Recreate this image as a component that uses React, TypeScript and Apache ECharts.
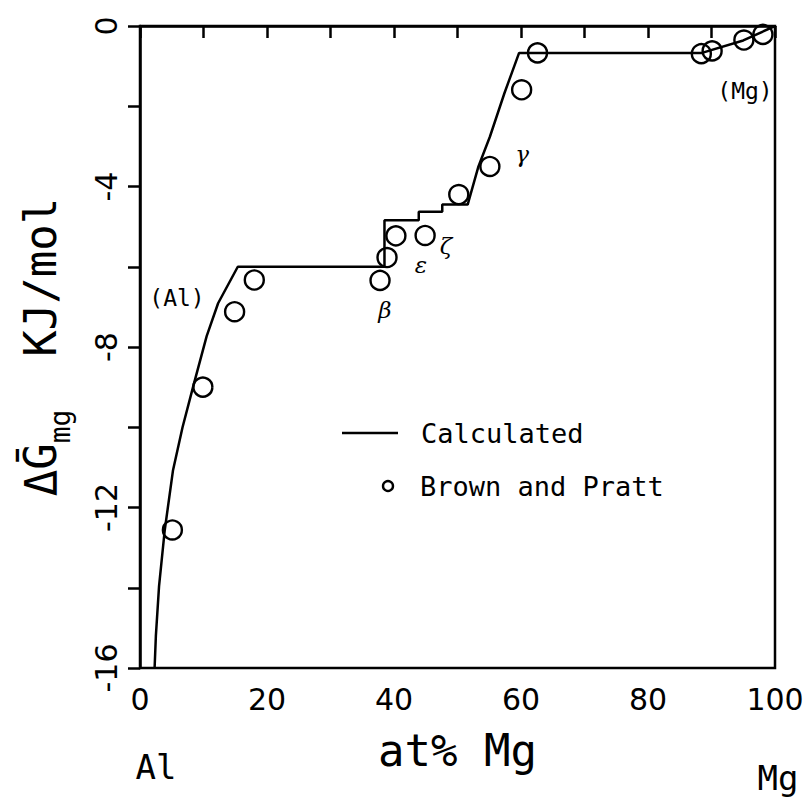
import React, { useEffect, useRef } from "react";
import * as echarts from "echarts";

// Calculated curve (at% Mg, kJ/mol)
const calcX = [2.3, 2.5, 3.0, 3.9, 5.2, 6.7, 8.4, 10.5, 12.3, 15.4, 38.5, 38.5, 43.9, 43.9, 47.6, 47.6, 51.6, 53.3, 55.1, 57.4, 59.7, 88.5, 95.0, 100];
const calcY = [-16, -15.2, -13.96, -12.56, -11.07, -10.0, -8.97, -7.73, -6.91, -6.0, -6.0, -4.84, -4.84, -4.63, -4.63, -4.45, -4.45, -3.5, -2.76, -1.67, -0.67, -0.67, -0.36, 0];

// Brown and Pratt measurements
const expX = [5.1, 9.9, 14.9, 18.0, 37.8, 38.9, 40.3, 44.9, 50.2, 55.1, 60.1, 62.6, 88.4, 90.1, 95.1, 98.1];
const expY = [-12.56, -9.0, -7.12, -6.33, -6.34, -5.77, -5.23, -5.22, -4.2, -3.5, -1.59, -0.67, -0.69, -0.62, -0.35, -0.21];

const xLabelTicks = [0, 20, 40, 60, 80, 100];
const yLabelTicks = [0, -4, -8, -12, -16];

const MONO = "DejaVu Sans Mono";
const SANS = "DejaVu Sans";

export default function App() {
  const ref = useRef<HTMLDivElement>(null);
  useEffect(() => {
    const chart = echarts.init(ref.current!, null, { renderer: "svg" });
    const lineData = calcX.map((x, i) => [x, calcY[i]]);
    const expData = expX.map((x, i) => [x, expY[i]]);
    chart.setOption({
      animation: false,
      backgroundColor: "#fff",
      grid: {
        left: 140,
        top: 26,
        width: 635,
        height: 642,
        show: true,
        borderColor: "#000",
        borderWidth: 2.5,
        backgroundColor: "transparent",
      },
      xAxis: {
        type: "value",
        min: 0,
        max: 100,
        interval: 10,
        name: "at% Mg",
        nameLocation: "middle",
        nameGap: 60,
        nameTextStyle: { fontFamily: MONO, fontSize: 44, color: "#000" },
        axisLine: { show: true, lineStyle: { color: "#000", width: 2.5 } },
        axisTick: { show: true, length: 12, lineStyle: { color: "#000", width: 2.5 } },
        axisLabel: {
          margin: 16,
          fontFamily: SANS,
          fontSize: 30,
          color: "#000",
          formatter: (v: number) => (xLabelTicks.includes(v) ? String(v) : ""),
        },
        splitLine: { show: false },
      },
      yAxis: {
        type: "value",
        min: -16,
        max: 0,
        interval: 2,
        name: "{d|ΔḠ}{s|mg}{d|  KJ/mol}",
        nameLocation: "middle",
        nameGap: 66,
        nameRotate: 90,
        nameTextStyle: {
          color: "#000",
          rich: {
            d: { fontFamily: MONO, fontSize: 44, color: "#000", verticalAlign: "top", padding: [0, 0, 12, 0] },
            s: { fontFamily: MONO, fontSize: 28, color: "#000", verticalAlign: "bottom" },
          },
        },
        axisLine: { show: true, lineStyle: { color: "#000", width: 2.5 } },
        axisTick: { show: true, length: 12, lineStyle: { color: "#000", width: 2.5 } },
        axisLabel: {
          margin: 19,
          rotate: 90,
          fontFamily: SANS,
          fontSize: 30,
          color: "#000",
          formatter: (v: number) => (yLabelTicks.includes(v) ? (v < 0 ? "-" + Math.abs(v) : String(v)) : ""),
        },
        splitLine: { show: false },
      },
      series: [
        {
          name: "Calculated",
          type: "line",
          data: lineData,
          symbol: "none",
          lineStyle: { color: "#000", width: 2.5 },
          z: 2,
        },
        {
          name: "Brown and Pratt",
          type: "scatter",
          data: expData,
          symbol: "circle",
          symbolSize: 19,
          itemStyle: { color: "none", borderColor: "#000", borderWidth: 2.4, opacity: 1 },
          z: 3,
        },
      ],
      graphic: [
        // legend
        { type: "line", shape: { x1: 342, y1: 433, x2: 398, y2: 433 }, style: { stroke: "#000", lineWidth: 2.5 } },
        { type: "text", x: 421, y: 433, style: { text: "Calculated", fontFamily: MONO, fontSize: 27, fill: "#000", verticalAlign: "middle", align: "left" } },
        { type: "circle", shape: { cx: 388, cy: 486, r: 5 }, style: { fill: "none", stroke: "#000", lineWidth: 2.4 } },
        { type: "text", x: 420, y: 486, style: { text: "Brown and Pratt", fontFamily: MONO, fontSize: 27, fill: "#000", verticalAlign: "middle", align: "left" } },
        // annotations
        { type: "text", x: 177, y: 298, style: { text: "(Al)", fontFamily: MONO, fontSize: 23, fill: "#000", align: "center", verticalAlign: "middle" } },
        { type: "text", x: 745, y: 91, style: { text: "(Mg)", fontFamily: MONO, fontSize: 23, fill: "#000", align: "center", verticalAlign: "middle" } },
        { type: "text", x: 385, y: 310, style: { text: "β", fontFamily: "DejaVu Serif", fontStyle: "italic", fontSize: 23, fill: "#000", align: "center", verticalAlign: "middle" } },
        { type: "text", x: 421, y: 265, style: { text: "ε", fontFamily: "DejaVu Serif", fontStyle: "italic", fontSize: 23, fill: "#000", align: "center", verticalAlign: "middle" } },
        { type: "text", x: 446, y: 246, style: { text: "ζ", fontFamily: "DejaVu Serif", fontStyle: "italic", fontSize: 23, fill: "#000", align: "center", verticalAlign: "middle" } },
        { type: "text", x: 522, y: 154, style: { text: "γ", fontFamily: "DejaVu Serif", fontStyle: "italic", fontSize: 23, fill: "#000", align: "center", verticalAlign: "middle" } },
        // composition ends
        { type: "text", x: 156, y: 767, style: { text: "Al", fontFamily: MONO, fontSize: 34, fill: "#000", align: "center", verticalAlign: "middle" } },
        { type: "text", x: 778, y: 778, style: { text: "Mg", fontFamily: MONO, fontSize: 34, fill: "#000", align: "center", verticalAlign: "middle" } },
      ],
    });
    return () => chart.dispose();
  }, []);
  return (
    <div
      ref={ref}
      style={{ position: "fixed", left: 0, top: 0, width: 809, height: 799, background: "#fff" }}
    />
  );
}
